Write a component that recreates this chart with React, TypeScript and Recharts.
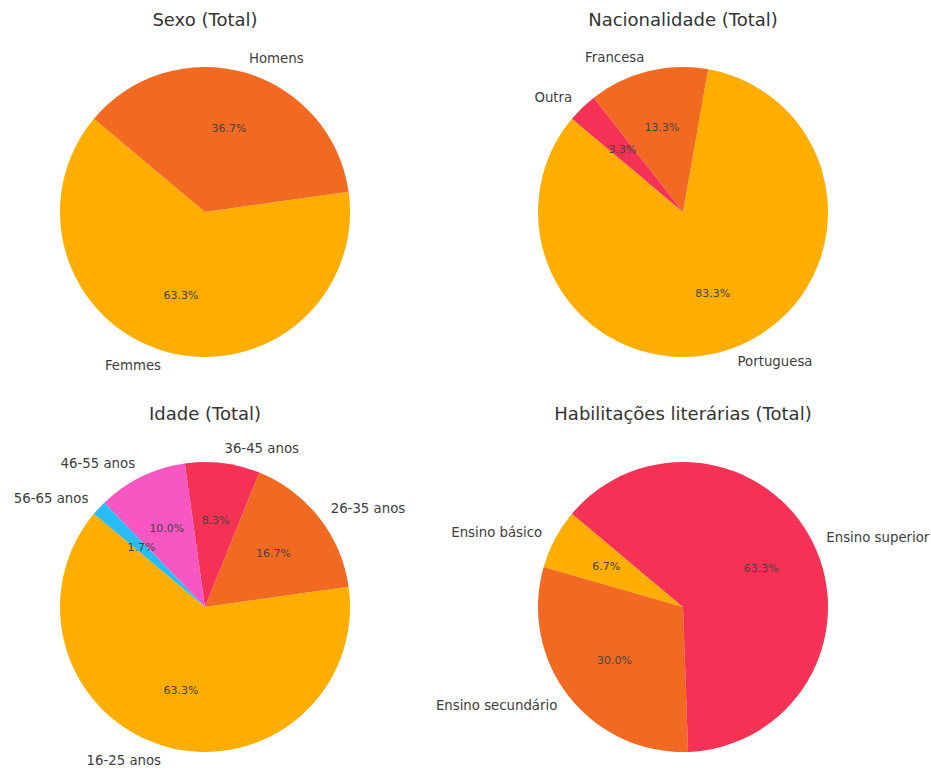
import React from 'react';
import { PieChart, Pie, Cell } from 'recharts';

const sexoNames = ['Femmes', 'Homens'];
const sexoValues = [38, 22];
const sexoColors = ['#FFAE00', '#F26A21'];

const nacNames = ['Portuguesa', 'Francesa', 'Outra'];
const nacValues = [50, 8, 2];
const nacColors = ['#FFAE00', '#F26A21', '#F53255'];

const idadeNames = ['16-25 anos', '26-35 anos', '36-45 anos', '46-55 anos', '56-65 anos'];
const idadeValues = [38, 10, 5, 6, 1];
const idadeColors = ['#FFAE00', '#F26A21', '#F53255', '#F857C3', '#2ABCF8'];

const habNames = ['Ensino básico', 'Ensino secundário', 'Ensino superior'];
const habValues = [4, 18, 38];
const habColors = ['#FFAE00', '#F26A21', '#F53255'];

const FONT = '"DejaVu Sans", sans-serif';
const RADIAN = Math.PI / 180;

const renderLabel = (props: any) => {
  const { cx, cy, midAngle, outerRadius, percent, name } = props;
  const cos = Math.cos(-midAngle * RADIAN);
  const sin = Math.sin(-midAngle * RADIAN);
  const lx = cx + outerRadius * 1.1 * cos;
  const ly = cy + outerRadius * 1.1 * sin;
  const px = cx + outerRadius * 0.6 * cos;
  const py = cy + outerRadius * 0.6 * sin;
  return (
    <g>
      <text x={lx} y={ly} textAnchor={cos > 0 ? 'start' : 'end'} dominantBaseline="central"
        fontSize={13.3} fill="#3d3d3d" fontFamily={FONT}>
        {name}
      </text>
      <text x={px} y={py} textAnchor="middle" dominantBaseline="central"
        fontSize={11} fill="#444" fontFamily={FONT}>
        {(percent * 100).toFixed(1) + '%'}
      </text>
    </g>
  );
};

const toData = (names: string[], values: number[]) => names.map((n, i) => ({ name: n, value: values[i] }));

const panels = [
  { title: 'Sexo (Total)', data: toData(sexoNames, sexoValues), colors: sexoColors, cx: 205, cy: 212, ty: 20 },
  { title: 'Nacionalidade (Total)', data: toData(nacNames, nacValues), colors: nacColors, cx: 683, cy: 212, ty: 20 },
  { title: 'Idade (Total)', data: toData(idadeNames, idadeValues), colors: idadeColors, cx: 205, cy: 607, ty: 414 },
  { title: 'Habilitações literárias (Total)', data: toData(habNames, habValues), colors: habColors, cx: 683, cy: 607, ty: 414 },
];

export default function App() {
  return (
    <div style={{ position: 'absolute', left: 0, top: 0, width: 931, height: 771, background: '#fff', overflow: 'hidden' }}>
      {panels.map((p) => (
        <div key={p.title} style={{ position: 'absolute', left: p.cx - 220, width: 440, top: p.ty - 12, textAlign: 'center',
          fontFamily: FONT, fontSize: 18, color: '#333', lineHeight: '24px' }}>
          {p.title}
        </div>
      ))}
      <PieChart width={931} height={771} margin={{ top: 0, right: 0, bottom: 0, left: 0 }}
        style={{ position: 'absolute', left: 0, top: 0 }}>
        {panels.map((p) => (
          <Pie key={p.title} data={p.data} dataKey="value" nameKey="name" cx={p.cx} cy={p.cy} outerRadius={145}
            startAngle={140} endAngle={500} stroke="none" label={renderLabel} labelLine={false}
            isAnimationActive={false}>
            {p.data.map((entry, index) => (
              <Cell key={`cell-${index}`} fill={p.colors[index % p.colors.length]} />
            ))}
          </Pie>
        ))}
      </PieChart>
    </div>
  );
}
